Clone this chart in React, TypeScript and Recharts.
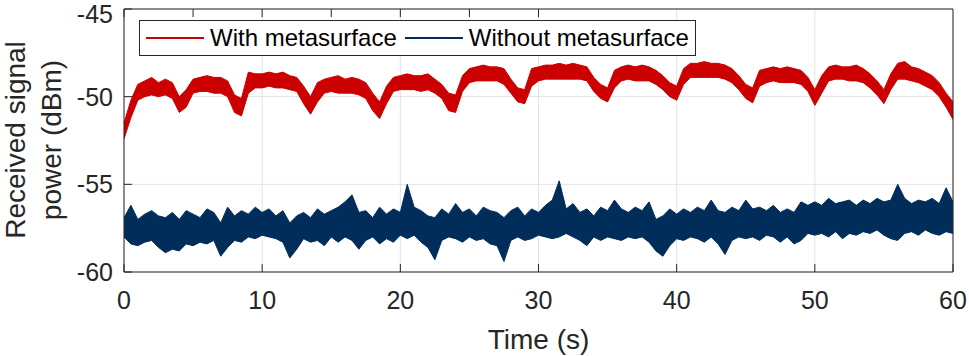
import { ComposedChart, Area, XAxis, YAxis, CartesianGrid, Legend } from "recharts";

// sampled every 0.5 s, 0..60 s
const STEP = 0.5;
const X_TICKS = [0, 10, 20, 30, 40, 50, 60];
const Y_TICKS = [-60, -55, -50, -45];

// With metasurface: lower / upper edge of the noisy trace (dBm)
const RED_LO = [
  -52.4, -51.2, -50.2, -50.0, -49.9, -50.0, -49.9, -50.1, -50.9, -50.6,
  -49.8, -49.7, -49.7, -49.8, -49.8, -50.0, -50.9, -51.1, -49.8, -49.5,
  -49.5, -49.4, -49.5, -49.5, -49.6, -49.7, -50.4, -51.0, -50.3, -49.8,
  -49.7, -49.8, -49.8, -49.8, -49.9, -50.1, -50.8, -51.25, -50.4, -49.7,
  -49.6, -49.6, -49.6, -49.7, -49.6, -49.8, -50.1, -50.8, -50.9, -49.7,
  -49.2, -49.1, -49.1, -49.1, -49.1, -49.3, -49.8, -50.3, -50.4, -49.4,
  -49.1, -49.0, -49.0, -49.0, -49.0, -49.0, -49.0, -49.1, -49.7, -50.1,
  -50.3, -49.5, -49.1, -49.0, -49.1, -49.1, -49.1, -49.3, -49.6, -50.0,
  -50.2, -49.3, -48.9, -48.9, -48.9, -48.9, -48.9, -49.0, -49.2, -49.6,
  -50.1, -50.35, -49.4, -49.2, -49.1, -49.2, -49.2, -49.2, -49.3, -49.7,
  -50.5, -49.8, -49.1, -49.0, -49.0, -49.1, -49.1, -49.2, -49.5, -49.9,
  -50.4, -49.6, -49.0, -49.0, -49.1, -49.2, -49.4, -49.6, -50.0, -50.6,
  -51.3,
];
const RED_HI = [
  -51.5, -50.2, -49.3, -49.1, -48.9, -49.2, -49.0, -49.2, -50.0, -49.6,
  -49.0, -48.9, -48.8, -48.9, -48.9, -49.1, -49.9, -50.1, -48.6, -48.7,
  -48.7, -48.6, -48.7, -48.6, -48.8, -48.9, -49.4, -50.0, -49.2, -49.0,
  -48.9, -48.8, -49.0, -48.9, -49.0, -49.2, -49.8, -50.3, -49.4, -48.9,
  -48.8, -48.7, -48.8, -48.8, -48.7, -49.0, -49.3, -49.8, -49.9, -48.8,
  -48.4, -48.3, -48.2, -48.3, -48.3, -48.4, -49.0, -49.5, -49.6, -48.4,
  -48.3, -48.2, -48.2, -48.1, -48.2, -48.1, -48.2, -48.3, -48.9, -49.3,
  -49.5, -48.5, -48.3, -48.2, -48.3, -48.2, -48.3, -48.5, -48.8, -49.2,
  -49.4, -48.4, -48.1, -48.1, -48.0, -48.1, -48.1, -48.2, -48.4, -48.8,
  -49.3, -49.5, -48.5, -48.4, -48.3, -48.4, -48.3, -48.4, -48.5, -48.9,
  -49.6, -48.8, -48.3, -48.2, -48.3, -48.3, -48.2, -48.4, -48.7, -49.1,
  -49.6, -48.7, -48.1, -48.0, -48.3, -48.4, -48.6, -48.8, -49.2, -49.8,
  -50.3,
];

// Without metasurface: lower / upper edge of the noisy trace (dBm)
const BLUE_LO = [
  -58.0, -58.4, -58.5, -58.3, -58.2, -58.6, -58.9, -58.7, -58.8, -58.4,
  -58.5, -58.3, -58.4, -58.2, -59.1, -58.6, -58.2, -58.3, -58.0, -58.1,
  -57.9, -58.0, -58.1, -58.3, -59.2, -58.7, -58.1, -58.3, -58.2, -58.5,
  -58.0, -58.3, -58.0, -58.2, -58.7, -58.2, -58.0, -58.4, -58.1, -58.3,
  -57.9, -58.1, -57.9, -58.3, -58.6, -59.3, -58.2, -58.0, -58.1, -58.3,
  -58.0, -58.2, -58.1, -58.4, -58.5, -59.4, -58.2, -58.0, -58.2, -58.1,
  -57.9, -58.0, -58.1, -58.0, -57.8, -58.0, -58.2, -58.5, -58.0, -58.2,
  -58.0, -58.1, -58.2, -58.0, -58.1, -58.0, -58.3, -58.8, -59.1, -58.5,
  -58.1, -58.2, -58.0, -58.1, -58.3, -58.0, -58.4, -59.0, -58.2, -58.0,
  -58.1, -58.0, -58.2, -57.9, -58.0, -58.3, -58.0, -58.4, -58.2, -57.8,
  -57.9, -57.8, -58.0, -57.7, -58.1, -57.8, -57.9, -57.7, -57.8, -57.6,
  -57.9, -58.1, -58.2, -57.8, -57.7, -57.9, -57.6, -57.8, -57.9, -57.7,
  -57.8,
];
const BLUE_HI = [
  -56.9, -56.2, -57.0, -56.7, -56.5, -56.8, -56.9, -56.6, -57.0, -56.5,
  -56.7, -56.9, -56.4, -56.6, -57.2, -56.3, -56.8, -56.5, -56.7, -56.3,
  -56.6, -56.4, -56.8, -56.5, -57.2, -56.8, -56.6, -56.9, -56.4, -56.7,
  -56.5, -56.3, -56.0, -55.6, -56.6, -56.5, -56.9, -56.3, -56.7, -56.4,
  -56.6, -55.0, -56.3, -56.5, -56.8, -56.9, -56.4, -56.7, -56.1, -56.6,
  -56.4, -56.8, -56.3, -56.5, -56.6, -56.9, -56.5, -56.3, -56.8, -56.4,
  -56.6, -56.2, -55.9, -54.8, -56.4, -56.1, -56.6, -56.4, -56.8, -56.3,
  -56.5, -55.9, -56.4, -56.6, -56.3, -56.5, -56.0, -57.0, -56.8, -56.4,
  -56.7, -56.4, -56.6, -56.3, -56.5, -55.9, -56.5, -56.6, -56.3, -56.5,
  -55.9, -56.4, -56.3, -56.5, -56.2, -56.6, -56.4, -56.6, -56.0, -56.2,
  -56.0, -56.2, -55.8, -56.1, -56.0, -55.9, -56.2, -55.9, -56.1, -55.8,
  -56.0, -55.9, -55.0, -55.8, -56.1, -55.9, -56.0, -55.8, -56.1, -55.2,
  -56.0,
];

const RED = "#cc0000";
const BLUE = "#012d5a";
const INK = "#262626";
const FONT = '"Liberation Sans", Arial, Helvetica, sans-serif';

const data = RED_LO.map((lo, i) => ({
  t: i * STEP,
  withMeta: [lo, RED_HI[i]],
  withoutMeta: [BLUE_LO[i], BLUE_HI[i]],
}));

const YLabel = () => (
  <text
    x={25}
    y={140}
    transform="rotate(-90, 25, 140)"
    textAnchor="middle"
    fill={INK}
    fontSize={28}
    fontFamily={FONT}
  >
    <tspan x={25} dy={0}>Received signal</tspan>
    <tspan x={25} dy={36}>power (dBm)</tspan>
  </text>
);

const LegendBox = () => (
  <div
    style={{
      display: "flex",
      alignItems: "center",
      height: 34,
      padding: "0 6px",
      border: `1px solid ${INK}`,
      background: "#fff",
      fontFamily: FONT,
      fontSize: 24,
      color: "#000",
      whiteSpace: "nowrap",
    }}
  >
    {[
      { name: "With metasurface", color: RED },
      { name: "Without metasurface", color: BLUE },
    ].map((s, i) => (
      <span key={s.name} style={{ display: "flex", alignItems: "center", marginLeft: i ? 8 : 0 }}>
        <span style={{ display: "inline-block", width: 58, height: 2, background: s.color, marginRight: 6 }} />
        {s.name}
      </span>
    ))}
  </div>
);

const noTick = () => <g />;

export default function App() {
  return (
    <div style={{ width: 969, height: 356 }}>
      <style>{`body{margin:0}`}</style>
      <ComposedChart width={969} height={356} data={data} margin={{ top: 8, right: 15, bottom: 0, left: 0 }}>
        <CartesianGrid stroke="#e3e3e3" strokeWidth={1} verticalValues={X_TICKS} horizontalValues={Y_TICKS} />
        <XAxis
          dataKey="t"
          type="number"
          domain={[0, 60]}
          ticks={X_TICKS}
          height={84}
          tickSize={-8}
          tickMargin={27}
          stroke={INK}
          tick={{ fill: INK, fontSize: 25, fontFamily: FONT }}
          label={{ value: "Time (s)", position: "insideBottom", offset: 7, fill: INK, fontSize: 28, fontFamily: FONT }}
        />
        <XAxis
          xAxisId="top"
          orientation="top"
          type="number"
          domain={[0, 60]}
          ticks={X_TICKS}
          height={1}
          tickSize={-8}
          stroke={INK}
          tick={noTick}
        />
        <YAxis
          type="number"
          domain={[-60, -45]}
          ticks={Y_TICKS}
          width={124}
          tickSize={-8}
          tickMargin={19}
          stroke={INK}
          tick={{ fill: INK, fontSize: 25, fontFamily: FONT }}
          label={<YLabel />}
        />
        <YAxis
          yAxisId="right"
          orientation="right"
          type="number"
          domain={[-60, -45]}
          ticks={Y_TICKS}
          width={1}
          tickSize={-8}
          stroke={INK}
          tick={noTick}
        />
        <Legend
          verticalAlign="middle"
          align="center"
          content={<LegendBox />}
          wrapperStyle={{ top: 20, left: 139, width: "auto", height: "auto" }}
        />
        <Area
          name="With metasurface"
          dataKey="withMeta"
          type="linear"
          stroke={RED}
          strokeWidth={1}
          fill={RED}
          fillOpacity={1}
          isAnimationActive={false}
        />
        <Area
          name="Without metasurface"
          dataKey="withoutMeta"
          type="linear"
          stroke={BLUE}
          strokeWidth={1}
          fill={BLUE}
          fillOpacity={1}
          isAnimationActive={false}
        />
      </ComposedChart>
    </div>
  );
}
